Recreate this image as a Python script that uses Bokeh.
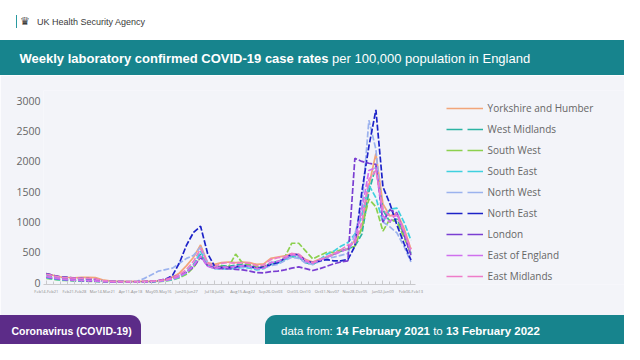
import numpy as np
from bokeh.plotting import figure
from bokeh.layouts import column
from bokeh.models import Range1d, FixedTicker, Legend, LegendItem, Div
from bokeh.embed import file_html
from bokeh.resources import INLINE

# ---------------- data ----------------
weeks = list(range(53))
label_positions = list(range(0, 53, 4))
week_labels = ["Feb14-Feb21", "Feb21-Feb28", "Mar14-Mar21", "Apr11-Apr18", "May09-May16",
               "Jun20-Jun27", "Jul18-Jul25", "Aug15-Aug22", "Sep26-Oct03", "Oct03-Oct10",
               "Oct31-Nov07", "Nov28-Dec05", "Jan02-Jan09", "Feb06-Feb13"]
y_ticks = [0, 500, 1000, 1500, 2000, 2500, 3000]

region_names = ["Yorkshire and Humber", "West Midlands", "South West", "South East",
                "North West", "North East", "London", "East of England", "East Midlands"]

yorkshire = [150, 120, 95, 85, 80, 85, 88, 82, 45, 30, 25, 22, 20, 20, 20, 22, 30,
             50, 90, 160, 280, 420, 620, 330, 300,
             330, 340, 330, 340, 330, 300, 310, 400, 420, 440, 480, 460, 380, 340, 390, 420, 470, 520, 560,
             700, 900, 1600, 2130, 1300, 1100, 1150, 900, 550]
west_midlands = [130, 100, 75, 65, 55, 50, 45, 40, 25, 20, 15, 12, 12, 12, 12, 15, 25,
                 40, 70, 110, 180, 300, 470, 290, 250,
                 280, 270, 290, 300, 290, 240, 250, 330, 350, 380, 430, 420, 330, 300, 370, 420, 470, 520, 560,
                 600, 800, 1500, 1920, 1200, 1000, 1050, 800, 480]
south_west = [70, 55, 40, 35, 30, 25, 22, 20, 12, 10, 8, 8, 8, 8, 10, 12, 18,
              25, 45, 80, 140, 250, 420, 300, 260,
              270, 260, 470, 320, 300, 260, 270, 300, 320, 420, 650, 650, 520, 390, 450, 500, 500, 540, 550,
              600, 900, 1380, 1250, 850, 1050, 1000, 750, 480]
south_east = [80, 60, 45, 38, 32, 28, 25, 22, 14, 12, 10, 9, 9, 9, 10, 12, 20,
              30, 50, 90, 160, 280, 520, 280, 230,
              230, 220, 240, 250, 240, 210, 230, 300, 320, 380, 450, 420, 340, 310, 380, 470, 520, 600, 660,
              800, 1100, 1610, 1400, 1000, 1210, 1230, 1000, 700]
north_west = [140, 115, 90, 80, 70, 65, 60, 50, 35, 25, 22, 20, 20, 25, 70, 130, 190,
              215, 240, 320, 400, 450, 585, 330, 260,
              240, 230, 250, 260, 250, 230, 240, 280, 300, 360, 420, 400, 320, 300, 350, 400, 420, 450, 480,
              800, 1250, 2680, 2200, 1000, 920, 820, 600, 340]
north_east = [150, 120, 95, 85, 75, 70, 65, 55, 30, 22, 18, 15, 14, 14, 15, 18, 30,
              50, 120, 330, 620, 830, 930, 480, 270,
              250, 250, 260, 280, 270, 240, 260, 300, 330, 400, 470, 460, 360, 330, 360, 380, 360, 360, 380,
              600, 1500, 2250, 2850, 1580, 1300, 950, 650, 370]
london = [90, 70, 55, 45, 38, 32, 28, 24, 16, 14, 12, 12, 13, 15, 18, 22, 35,
          60, 90, 120, 170, 260, 420, 280, 240,
          230, 230, 220, 210, 190, 165, 160, 180, 190, 210, 240, 260, 230, 200, 230, 270, 310, 340, 360,
          2050, 2000, 1970, 1950, 1000, 1200, 1150, 800, 450]
east_of_england = [100, 80, 60, 50, 42, 38, 34, 30, 18, 14, 12, 10, 10, 10, 12, 15, 22,
                   35, 60, 100, 170, 280, 440, 270, 230,
                   260, 250, 270, 280, 270, 230, 240, 330, 350, 400, 460, 440, 350, 320, 370, 420, 460, 510, 560,
                   700, 1200, 1850, 1900, 1100, 1000, 1150, 850, 500]
east_midlands = [140, 115, 90, 80, 75, 72, 68, 60, 35, 25, 20, 18, 18, 18, 20, 25, 35,
                 50, 80, 130, 220, 350, 560, 320, 260,
                 320, 330, 320, 330, 320, 280, 290, 380, 410, 430, 480, 470, 370, 330, 380, 430, 480, 540, 620,
                 650, 1000, 1700, 1850, 1200, 1100, 1100, 850, 550]

series = [yorkshire, west_midlands, south_west, south_east, north_west,
          north_east, london, east_of_england, east_midlands]
colors = ["#F2A57A", "#2BB3A3", "#8CD04E", "#3FD0DF", "#9BB2EE",
          "#1C22C8", "#7A3ED2", "#CF6FEE", "#EE7CC9"]

TEAL = "#17848D"
PURPLE = "#5C2C88"
BG = "#F3F4F9"
W = 624
FONT = "'Liberation Sans', Arial, sans-serif"

# ---------------- header (HTML) ----------------
header_html = f"""
<div style="position:relative;width:{W}px;height:75px;background:white;font-family:{FONT};overflow:hidden;">
  <div style="position:absolute;left:15.6px;top:15.3px;width:1.2px;height:12.4px;background:#2A9AA0;"></div>
  <div style="position:absolute;left:20px;top:14px;height:16px;line-height:16px;font-size:11px;color:#3a3a3a;font-family:'DejaVu Sans';">&#9819;</div>
  <div style="position:absolute;left:37px;top:16px;height:12px;line-height:12px;font-size:9px;color:#3a3a3a;white-space:nowrap;">UK Health Security Agency</div>
  <div style="position:absolute;left:0;top:40px;width:{W}px;height:35px;background:{TEAL};"></div>
  <div style="position:absolute;left:19.5px;top:41px;height:35px;line-height:35px;font-size:13px;color:white;white-space:nowrap;"><b>Weekly laboratory confirmed COVID-19 case rates</b> per 100,000 population in England</div>
</div>
"""
hdr = Div(text=header_html, width=W, height=75, margin=(0, 0, 0, 0))

# ---------------- chart ----------------
p = figure(width=W, height=240, x_range=Range1d(-0.4, 82.45), y_range=Range1d(-31, 3170),
           output_backend="svg", toolbar_location=None,
           min_border_left=43, min_border_right=0, min_border_top=15, min_border_bottom=31)
p.background_fill_color = BG
p.border_fill_color = BG
p.outline_line_color = None
p.grid.visible = False

for name, vals, c in zip(region_names, series, colors):
    dash = "solid" if name == "Yorkshire and Humber" else "6 2"
    p.line(x=weeks, y=vals, line_color=c, line_width=1.7, line_dash=dash)

items = []
for name, c in zip(region_names, colors):
    dash = "solid" if name == "Yorkshire and Humber" else "16 5"
    d = p.line(x=[-10, -9], y=[-500, -500], line_color=c, line_width=1.7, line_dash=dash)
    items.append(LegendItem(label=name, renderers=[d]))

legend = Legend(items=items, location=(402.6, 0), orientation="vertical",
                glyph_width=37, glyph_height=16, label_height=16, label_standoff=5,
                spacing=5, padding=0, margin=0, border_line_color=None,
                background_fill_alpha=0, label_text_font="Open Sans",
                label_text_font_size="10px", label_text_color="#666666")
p.add_layout(legend)

xa = p.xaxis[0]
xa.ticker = FixedTicker(ticks=label_positions, minor_ticks=weeks)
xa.major_label_overrides = {pos: lab for pos, lab in zip(label_positions, week_labels)}
xa.major_label_text_font = "Open Sans"
xa.major_label_text_font_size = "4px"
xa.major_label_text_color = "#8a8a8a"
xa.axis_line_color = "#C9C9CC"
xa.major_tick_line_color = "#C9C9CC"
xa.minor_tick_line_color = "#C9C9CC"
xa.major_tick_in = 4
xa.major_tick_out = 0
xa.minor_tick_in = 3
xa.minor_tick_out = 0
xa.major_label_standoff = 4
xa.bounds = (-0.4, 52.6)

ya = p.yaxis[0]
ya.ticker = FixedTicker(ticks=y_ticks)
ya.axis_line_color = None
ya.major_tick_line_color = None
ya.minor_tick_line_color = None
ya.major_tick_in = 0
ya.major_tick_out = 0
ya.minor_tick_in = 0
ya.minor_tick_out = 0
ya.major_label_text_font = "Open Sans"
ya.major_label_text_font_size = "10.5px"
ya.major_label_text_color = "#666666"
ya.major_label_standoff = 3

# ---------------- footer (HTML) ----------------
footer_html = f"""
<div style="position:relative;width:{W}px;height:29px;background:{BG};font-family:{FONT};color:white;overflow:hidden;">
  <div style="position:absolute;left:0;top:0;width:141.4px;height:29px;background:{PURPLE};border-top-right-radius:11px;"></div>
  <div style="position:absolute;left:11.5px;top:2px;height:29px;line-height:29px;font-size:10.5px;font-weight:bold;white-space:nowrap;">Coronavirus (COVID-19)</div>
  <div style="position:absolute;left:265px;top:0;width:{W - 265}px;height:29px;background:{TEAL};border-top-left-radius:11px;"></div>
  <div style="position:absolute;left:281px;top:2px;height:29px;line-height:29px;font-size:11.5px;white-space:nowrap;">data from: <b>14 February 2021</b> to <b>13 February 2022</b></div>
</div>
"""
ftr = Div(text=footer_html, width=W, height=29, margin=(0, 0, 0, 0))

layout = column(hdr, p, ftr, spacing=0)
open("out.html", "w").write(file_html(layout, INLINE))
